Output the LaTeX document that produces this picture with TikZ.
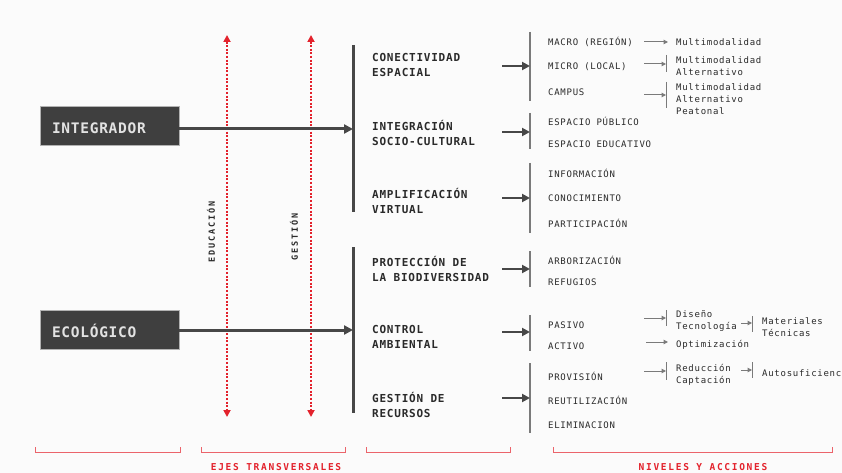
\documentclass[tikz,border=0pt]{standalone}
\usepackage{fontspec}
\usetikzlibrary{arrows.meta}
\newfontfamily\boxfont[LetterSpace=5]{DejaVu Sans Mono}
\newfontfamily\lblfont[LetterSpace=7]{DejaVu Sans Mono}
\newfontfamily\smfont[LetterSpace=8]{DejaVu Sans Mono}
\newfontfamily\vfont[LetterSpace=22]{DejaVu Sans Mono}
\newfontfamily\redfont[LetterSpace=18]{DejaVu Sans Mono}
\definecolor{bgc}{HTML}{FBFBFB}
\definecolor{boxc}{HTML}{3F3F3F}
\definecolor{boxt}{HTML}{E2E2E2}
\definecolor{barc}{HTML}{474747}
\definecolor{rd}{HTML}{E3222C}
\definecolor{gr}{HTML}{7A7A7A}
\definecolor{txc}{HTML}{2A2A2A}
\tikzset{
  mainbox/.style={fill=boxc, draw=gray!60, line width=0.5pt, minimum width=139, minimum height=39, inner sep=0, text=boxt, font=\boxfont\bfseries\fontsize{14.5}{16}\selectfont, text width=115, align=left, text height=16.6, text depth=0},
  midlbl/.style={anchor=west, inner sep=0, align=left, text=txc, font=\lblfont\bfseries\fontsize{11}{15}\selectfont},
  item/.style={anchor=west, inner sep=0, text=txc, font=\smfont\fontsize{9}{12}\selectfont},
  sub/.style={anchor=west, inner sep=0, align=left, text=txc, font=\smfont\fontsize{9}{12}\selectfont},
  bigbar/.style={draw=barc, line width=3},
  bigarrow/.style={draw=barc, line width=3, -{Triangle[length=9,width=9]}},
  midarrow/.style={draw=barc, line width=2.6, -{Triangle[length=8,width=8]}},
  rbar/.style={draw=gr, line width=2},
  smarrow/.style={draw=gr, line width=1, -{Triangle[length=4.5,width=4.5]}},
  smbar/.style={draw=gr, line width=1},
  redaxis/.style={draw=rd, line width=2.2, dash pattern=on 2 off 1.6, {Triangle[length=7,width=7]}-{Triangle[length=7,width=7]}},
  vlbl/.style={rotate=90, inner sep=0, text=txc, font=\vfont\bfseries\fontsize{8.5}{10}\selectfont},
  brk/.style={draw=rd!70, line width=0.7},
  redlbl/.style={inner sep=0, text=rd, font=\redfont\bfseries\fontsize{9.5}{11}\selectfont}
}
\begin{document}
\begin{tikzpicture}[x=1pt,y=-1pt]
\fill[bgc] (0,0) rectangle (842,473);
\useasboundingbox (0,0) rectangle (842,473);

% red transversal axes
\coordinate (e1) at (227,35); \coordinate (e2) at (227,417);
\coordinate (g1) at (311,35); \coordinate (g2) at (311,417);
\draw[redaxis] (e1) -- (e2);
\draw[redaxis] (g1) -- (g2);
\node[vlbl] (edu) at (211,232) {EDUCACIÓN};
\node[vlbl] (ges) at (294,237) {GESTIÓN};

% main boxes
\node[mainbox] (intg) at (109.5,125.5) {INTEGRADOR};
\node[mainbox] (eco) at (109.5,329.3) {ECOLÓGICO};

% big bars
\coordinate (b1t) at (353,45); \coordinate (b1b) at (353,212);
\coordinate (b2t) at (353,247); \coordinate (b2b) at (353,413);
\draw[bigbar] (b1t) -- (b1b);
\draw[bigbar] (b2t) -- (b2b);
\draw[bigarrow] ([yshift=-3.5]intg.east) -- ([yshift=-3.5]intg.east -| b1t);
\draw[bigarrow] ([yshift=-0.7]eco.east) -- ([yshift=-0.7]eco.east -| b2t);

% middle labels
\node[midlbl] (m1) at (372,64.5) {CONECTIVIDAD\\ESPACIAL};
\node[midlbl] (m2) at (372,132.5) {INTEGRACIÓN\\SOCIO-CULTURAL};
\node[midlbl] (m3) at (372,200.5) {AMPLIFICACIÓN\\VIRTUAL};
\node[midlbl] (m4) at (372,268.5) {PROTECCIÓN DE\\LA BIODIVERSIDAD};
\node[midlbl] (m5) at (372,336.5) {CONTROL\\AMBIENTAL};
\node[midlbl] (m6) at (372,404.5) {GESTIÓN DE\\RECURSOS};

% right bars
\coordinate (r1t) at (530,32);  \coordinate (r1b) at (530,101);
\coordinate (r2t) at (530,113); \coordinate (r2b) at (530,149);
\coordinate (r3t) at (530,163); \coordinate (r3b) at (530,233);
\coordinate (r4t) at (530,251); \coordinate (r4b) at (530,287);
\coordinate (r5t) at (530,315); \coordinate (r5b) at (530,351);
\coordinate (r6t) at (530,363); \coordinate (r6b) at (530,433);
\foreach \i in {1,...,6} \draw[rbar] (r\i t) -- (r\i b);

\coordinate (a1) at (502,66);  \coordinate (a2) at (502,132);
\coordinate (a3) at (502,198); \coordinate (a4) at (502,269);
\coordinate (a5) at (502,332); \coordinate (a6) at (502,398);
\foreach \i in {1,...,6} \draw[midarrow] (a\i) -- (a\i -| r\i t);

% items
\node[item] (i11) at (548,42) {MACRO (REGIÓN)};
\node[item] (i12) at (548,67) {MICRO (LOCAL)};
\node[item] (i13) at (548,92) {CAMPUS};
\node[item] (i21) at (548,121) {ESPACIO PÚBLICO};
\node[item] (i22) at (548,144) {ESPACIO EDUCATIVO};
\node[item] (i31) at (548,173) {INFORMACIÓN};
\node[item] (i32) at (548,198) {CONOCIMIENTO};
\node[item] (i33) at (548,223) {PARTICIPACIÓN};
\node[item] (i41) at (548,260) {ARBORIZACIÓN};
\node[item] (i42) at (548,282) {REFUGIOS};
\node[item] (i51) at (548,325) {PASIVO};
\node[item] (i52) at (548,346) {ACTIVO};
\node[item] (i61) at (548,376) {PROVISIÓN};
\node[item] (i62) at (548,400) {REUTILIZACIÓN};
\node[item] (i63) at (548,425) {ELIMINACION};

% sub items
\node[sub] (s1) at (676,42) {Multimodalidad};
\node[sub] (s2) at (676,66) {Multimodalidad\\Alternativo};
\node[sub] (s3) at (676,99) {Multimodalidad\\Alternativo\\Peatonal};
\node[sub] (s4) at (676,321) {Diseño\\Tecnología};
\node[sub] (s5) at (676,345) {Optimización};
\node[sub] (s6) at (676,375) {Reducción\\Captación};
\node[sub] (s7) at (762,327) {Materiales\\Técnicas};
\node[sub] (s8) at (762,373) {Autosuficienc};

% small bars
\coordinate (q2t) at (666,55);  \coordinate (q2b) at (666,72);
\coordinate (q3t) at (666,82);  \coordinate (q3b) at (666,108);
\coordinate (q4t) at (666,310); \coordinate (q4b) at (666,326);
\coordinate (q6t) at (666,362); \coordinate (q6b) at (666,380);
\coordinate (q7t) at (752,316); \coordinate (q7b) at (752,332);
\coordinate (q8t) at (752,362); \coordinate (q8b) at (752,378);
\foreach \i in {2,3,4,6,7,8} \draw[smbar] (q\i t) -- (q\i b);

\coordinate (p1) at (644,42);  \coordinate (p2) at (644,64);
\coordinate (p3) at (644,95);  \coordinate (p4) at (644,318);
\coordinate (p5) at (646,342); \coordinate (p6) at (644,371);
\coordinate (p7) at (741,323); \coordinate (p8) at (741,370);
\draw[smarrow] (p1) -- ([xshift=-8]s1.west);
\draw[smarrow] (p2) -- (p2 -| q2t);
\draw[smarrow] (p3) -- (p3 -| q3t);
\draw[smarrow] (p4) -- (p4 -| q4t);
\draw[smarrow] (p5) -- ([xshift=-8]s5.west |- p5);
\draw[smarrow] (p6) -- (p6 -| q6t);
\draw[smarrow] (p7) -- (p7 -| q7t);
\draw[smarrow] (p8) -- (p8 -| q8t);

% bottom brackets
\foreach \n/\xa/\xb in {k1/35/180, k2/201/345, k3/366/510, k4/553/832}
  \draw[brk] (\xa,447) |- (\xb,452) -- (\xb,447);
\node[redlbl] (t1) at (276,467) {EJES  TRANSVERSALES};
\node[redlbl] (t2) at (703,467) {NIVELES Y ACCIONES};
\end{tikzpicture}
\end{document}
